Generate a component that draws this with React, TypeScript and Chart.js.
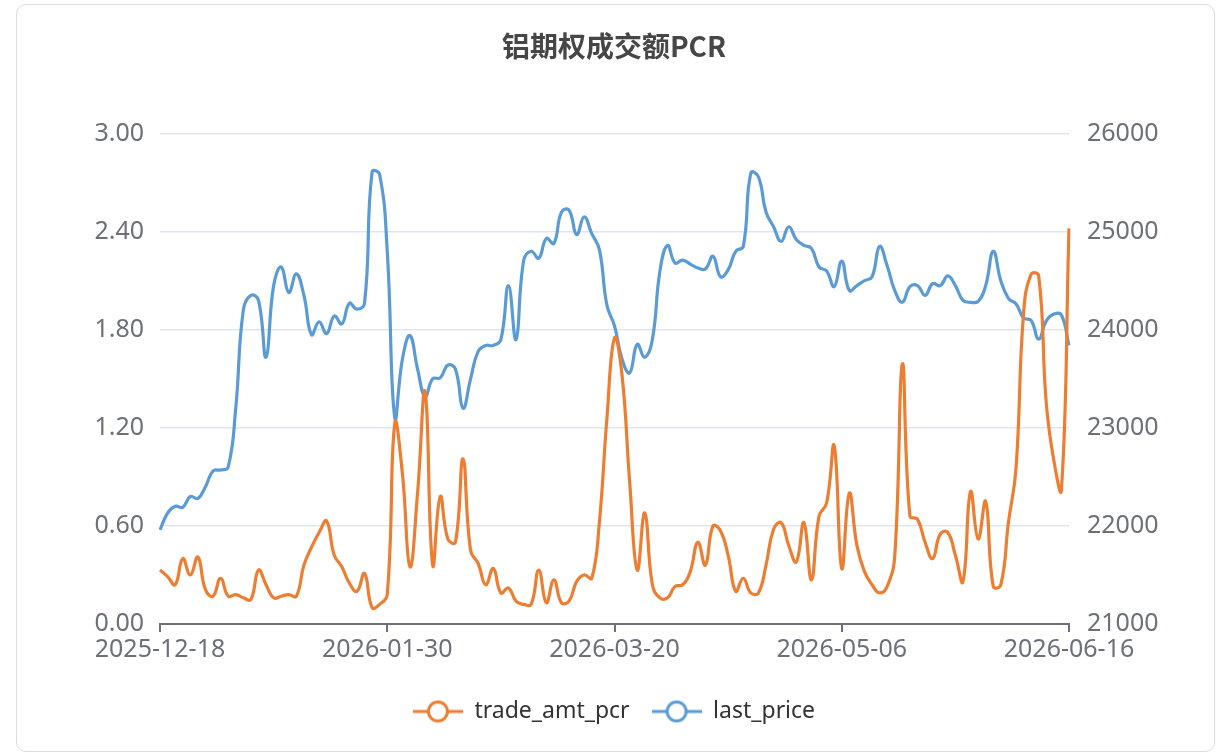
import React, { useEffect, useRef } from 'react';
import { Chart, registerables } from 'chart.js';

Chart.register(...registerables);

const TITLE = '铝期权成交额PCR';

const dates: string[] = [
  '2025-12-18', '2025-12-19', '2025-12-22', '2025-12-23', '2025-12-24', '2025-12-25', '2025-12-26', '2025-12-29', '2025-12-30', '2025-12-31',
  '2026-01-02', '2026-01-05', '2026-01-06', '2026-01-07', '2026-01-08', '2026-01-09', '2026-01-12', '2026-01-13', '2026-01-14', '2026-01-15',
  '2026-01-16', '2026-01-19', '2026-01-20', '2026-01-21', '2026-01-22', '2026-01-23', '2026-01-26', '2026-01-27', '2026-01-28', '2026-01-29',
  '2026-01-30', '2026-02-02', '2026-02-03', '2026-02-04', '2026-02-05', '2026-02-06', '2026-02-09', '2026-02-10', '2026-02-11', '2026-02-12',
  '2026-02-13', '2026-02-23', '2026-02-24', '2026-02-25', '2026-02-26', '2026-02-27', '2026-03-02', '2026-03-03', '2026-03-04', '2026-03-05',
  '2026-03-06', '2026-03-09', '2026-03-10', '2026-03-11', '2026-03-12', '2026-03-13', '2026-03-16', '2026-03-17', '2026-03-18', '2026-03-19',
  '2026-03-20', '2026-03-23', '2026-03-24', '2026-03-25', '2026-03-26', '2026-03-27', '2026-03-30', '2026-03-31', '2026-04-01', '2026-04-02',
  '2026-04-03', '2026-04-06', '2026-04-07', '2026-04-08', '2026-04-09', '2026-04-10', '2026-04-13', '2026-04-14', '2026-04-15', '2026-04-16',
  '2026-04-17', '2026-04-20', '2026-04-21', '2026-04-22', '2026-04-23', '2026-04-24', '2026-04-27', '2026-04-28', '2026-04-29', '2026-04-30',
  '2026-05-06', '2026-05-07', '2026-05-08', '2026-05-09', '2026-05-11', '2026-05-12', '2026-05-13', '2026-05-14', '2026-05-15', '2026-05-18',
  '2026-05-19', '2026-05-20', '2026-05-21', '2026-05-22', '2026-05-25', '2026-05-26', '2026-05-27', '2026-05-28', '2026-05-29', '2026-06-01',
  '2026-06-02', '2026-06-03', '2026-06-04', '2026-06-05', '2026-06-08', '2026-06-09', '2026-06-10', '2026-06-11', '2026-06-12', '2026-06-15',
  '2026-06-16',
];

const tradeAmtPcr: number[] = [
  0.33, 0.29, 0.24, 0.40, 0.30, 0.41, 0.21, 0.17, 0.28, 0.17,
  0.18, 0.16, 0.15, 0.33, 0.24, 0.16, 0.17, 0.18, 0.17, 0.36,
  0.47, 0.56, 0.63, 0.42, 0.35, 0.25, 0.20, 0.31, 0.10, 0.12,
  0.18, 1.23, 0.92, 0.35, 0.80, 1.42, 0.36, 0.78, 0.52, 0.50,
  1.01, 0.45, 0.37, 0.24, 0.34, 0.19, 0.22, 0.14, 0.12, 0.12,
  0.33, 0.13, 0.27, 0.13, 0.14, 0.26, 0.30, 0.28, 0.62, 1.26,
  1.75, 1.52, 0.87, 0.33, 0.68, 0.24, 0.16, 0.16, 0.23, 0.24,
  0.32, 0.50, 0.36, 0.60, 0.57, 0.42, 0.20, 0.28, 0.19, 0.19,
  0.36, 0.58, 0.62, 0.48, 0.38, 0.62, 0.27, 0.66, 0.74, 1.09,
  0.34, 0.80, 0.48, 0.32, 0.24, 0.19, 0.23, 0.42, 1.59, 0.66,
  0.64, 0.50, 0.40, 0.55, 0.56, 0.42, 0.26, 0.81, 0.52, 0.75,
  0.23, 0.24, 0.62, 0.95, 1.90, 2.14, 2.13, 1.35, 1.00, 0.82,
  2.42,
];

const lastPrice: number[] = [
  21960, 22130, 22200, 22190, 22300, 22280, 22400, 22560, 22570, 22600,
  23200, 24200, 24350, 24300, 23720, 24450, 24640, 24380, 24570, 24350,
  23950, 24080, 23960, 24140, 24060, 24270, 24210, 24270, 25610, 25580,
  24800, 23100, 23700, 23940, 23600, 23320, 23500, 23510, 23640, 23600,
  23200, 23500, 23780, 23840, 23840, 23900, 24450, 23900, 24700, 24800,
  24730, 24930, 24880, 25200, 25220, 24970, 25150, 24980, 24820, 24250,
  24040, 23700, 23560, 23850, 23720, 23900, 24600, 24860, 24680, 24710,
  24670, 24630, 24620, 24750, 24540, 24610, 24800, 24850, 25600, 25560,
  25200, 25050, 24900, 25050, 24920, 24860, 24830, 24640, 24600, 24440,
  24700, 24400, 24450, 24500, 24540, 24850, 24650, 24400, 24280, 24440,
  24450, 24350, 24470, 24450, 24550, 24450, 24300, 24280, 24290, 24450,
  24800, 24500, 24320, 24265, 24120, 24095, 23905, 24090, 24160, 24150,
  23840,
];

const leftTicks: number[] = [0, 0.6, 1.2, 1.8, 2.4, 3.0];
const rightTicks: number[] = [21000, 22000, 23000, 24000, 25000, 26000];
const labelEvery = 30;

const ORANGE = '#ED7D31';
const BLUE = '#5B9BD5';
const AXIS = '#6E7079';
const FONT = '"Noto Sans", "Noto Sans CJK SC", sans-serif';

function makeIcon(color: string): HTMLCanvasElement {
  const c = document.createElement('canvas');
  c.width = 50;
  c.height = 26;
  const ctx = c.getContext('2d')!;
  ctx.strokeStyle = color;
  ctx.lineWidth = 3;
  ctx.beginPath();
  ctx.moveTo(0, 13);
  ctx.lineTo(50, 13);
  ctx.stroke();
  ctx.beginPath();
  ctx.arc(25, 13, 9.5, 0, Math.PI * 2);
  ctx.fillStyle = '#ffffff';
  ctx.fill();
  ctx.stroke();
  return c;
}

export default function App() {
  const ref = useRef<HTMLCanvasElement | null>(null);

  useEffect(() => {
    if (!ref.current) return;
    const icons = [makeIcon(ORANGE), makeIcon(BLUE)];
    const chart = new Chart(ref.current, {
      type: 'line',
      data: {
        labels: dates,
        datasets: [
          {
            label: 'trade_amt_pcr',
            data: tradeAmtPcr,
            borderColor: ORANGE,
            backgroundColor: ORANGE,
            borderWidth: 3.2,
            pointRadius: 0,
            tension: 0.45,
            yAxisID: 'y',
          },
          {
            label: 'last_price',
            data: lastPrice,
            borderColor: BLUE,
            backgroundColor: BLUE,
            borderWidth: 3.2,
            pointRadius: 0,
            tension: 0.45,
            yAxisID: 'y1',
          },
        ],
      },
      options: {
        responsive: false,
        animation: false,
        layout: { padding: { left: 0, right: 0, top: 0, bottom: 22 } },
        plugins: {
          title: {
            display: true,
            text: TITLE,
            color: '#464646',
            font: { size: 28, weight: 'bold', family: '"Noto Sans CJK SC", sans-serif' },
            padding: { top: 30, bottom: 70 },
          },
          legend: {
            position: 'bottom',
            labels: {
              usePointStyle: true,
              pointStyleWidth: 50,
              color: '#333333',
              font: { size: 23, family: FONT },
              padding: 22,
              generateLabels: (ch: any) => {
                const items = (Chart.defaults.plugins.legend.labels as any).generateLabels(ch);
                items.forEach((it: any, i: number) => {
                  it.pointStyle = icons[i];
                });
                return items;
              },
            },
          },
          tooltip: { enabled: false },
        },
        scales: {
          x: {
            type: 'category',
            offset: false,
            grid: { display: true, drawOnChartArea: false, drawTicks: true, tickLength: 8, color: AXIS, lineWidth: 2 },
            border: { display: true, color: AXIS, width: 2 },
            ticks: {
              autoSkip: false,
              maxRotation: 0,
              minRotation: 0,
              color: AXIS,
              padding: 3,
              font: { size: 25, family: FONT },
              callback: (_v: any, i: number) => (i % labelEvery === 0 ? dates[i] : null),
            },
            afterFit: (s: any) => {
              s.height = 54;
            },
          },
          y: {
            position: 'left',
            min: leftTicks[0],
            max: leftTicks[leftTicks.length - 1],
            grid: { color: '#E0E6F1', drawTicks: false, lineWidth: 1.5 },
            border: { display: false },
            ticks: {
              stepSize: leftTicks[1] - leftTicks[0],
              padding: 16,
              color: AXIS,
              font: { size: 25, family: FONT },
              callback: (v: any) => Number(v).toFixed(2),
            },
            afterFit: (s: any) => {
              s.width = 160;
            },
          },
          y1: {
            position: 'right',
            min: rightTicks[0],
            max: rightTicks[rightTicks.length - 1],
            grid: { drawOnChartArea: false, drawTicks: false },
            border: { display: false },
            ticks: {
              stepSize: rightTicks[1] - rightTicks[0],
              padding: 18,
              color: AXIS,
              font: { size: 25, family: FONT },
              callback: (v: any) => String(v),
            },
            afterFit: (s: any) => {
              s.width = 159;
            },
          },
        },
      } as any,
    });
    return () => chart.destroy();
  }, []);

  return (
    <div style={{ position: 'absolute', left: 0, top: 0, width: 1228, height: 755, background: '#ffffff' }}>
      <div
        style={{
          position: 'absolute',
          left: 16,
          top: 4,
          width: 1197,
          height: 746,
          border: '1px solid #dcdcdc',
          borderRadius: 10,
          background: '#ffffff',
        }}
      />
      <canvas ref={ref} width={1228} height={755} style={{ position: 'absolute', left: 0, top: 0 }} />
    </div>
  );
}
